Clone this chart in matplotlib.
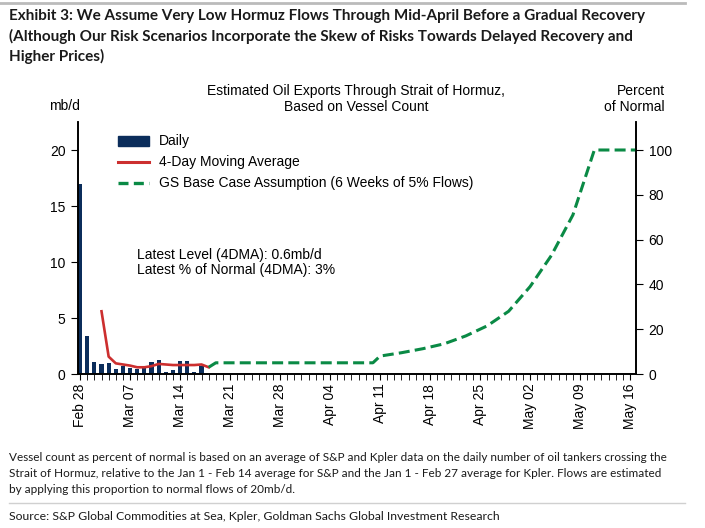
import pandas as pd
import matplotlib
matplotlib.use('Agg')
import matplotlib.pyplot as plt
import matplotlib.dates as mdates
from matplotlib.lines import Line2D
from matplotlib.patches import Patch

# daily flows based on vessel count (mb/d)
daily_dates = pd.date_range('2026-02-28', '2026-03-17')
daily_vals = [17.0, 3.4, 1.1, 0.9, 1.0, 0.45, 0.7, 0.5, 0.45, 0.5,
              1.05, 1.25, 0.2, 0.35, 1.15, 1.15, 0.2, 0.7]

# 4-day moving average (mb/d)
ma_dates = pd.date_range('2026-03-03', '2026-03-18')
ma_vals = [5.6, 1.55, 0.95, 0.85, 0.75, 0.6, 0.6, 0.7, 0.9, 0.85,
           0.8, 0.8, 0.8, 0.8, 0.85, 0.6]

# GS base case assumption (% of normal)
base_dates = pd.to_datetime(['2026-03-18', '2026-03-19', '2026-04-10', '2026-04-11',
                             '2026-04-14', '2026-04-17', '2026-04-20', '2026-04-23',
                             '2026-04-26', '2026-04-29', '2026-05-02', '2026-05-05',
                             '2026-05-08', '2026-05-11', '2026-05-18'])
base_pct = [3, 5, 5, 8, 9.5, 11.3, 13.5, 17, 21.5, 28, 39, 53, 71, 100, 100]

W, H = 705, 528
navy = '#0b2d5b'
red = '#cc2f2f'
green = '#0a8a45'
chart_font = ['Liberation Sans', 'DejaVu Sans']
text_font = ['Lato', 'DejaVu Sans']

fig = plt.figure(figsize=(W / 100, H / 100), dpi=100)
ax = fig.add_axes([78 / W, 1 - 374 / H, (636 - 78) / W, (374 - 122) / H])
ax2 = ax.twinx()

ax.bar(daily_dates, daily_vals, width=0.58, color=navy, zorder=2)
ax.plot(ma_dates, ma_vals, color=red, lw=1.9, zorder=3)
ax2.plot(base_dates, base_pct, color=green, lw=2.2, dashes=(3.6, 1.7))

ax.set_xlim(pd.Timestamp('2026-02-27 17:00'), pd.Timestamp('2026-05-16 20:00'))
ax.set_ylim(0, 22.5)
ax2.set_ylim(0, 112.5)
ax.set_yticks([0, 5, 10, 15, 20])
ax2.set_yticks([0, 20, 40, 60, 80, 100])

ticks = pd.date_range('2026-02-28', '2026-05-16', freq='7D')
ax.set_xticks(ticks)
ax.set_xticklabels([d.strftime('%b %d') for d in ticks], rotation=90,
                   fontfamily=chart_font, fontsize=10)
ax.xaxis.set_minor_locator(mdates.DayLocator())

for a in (ax, ax2):
    a.spines['top'].set_visible(False)
    for s in a.spines.values():
        s.set_linewidth(1.2)
    a.tick_params(axis='both', which='both', direction='out', labelsize=10)
ax.tick_params(axis='x', which='major', length=4, pad=3)
ax.tick_params(axis='x', which='minor', length=4)
ax.tick_params(axis='y', length=5, pad=4)
ax2.tick_params(axis='y', length=5, pad=4)
for lab in ax.get_yticklabels() + ax2.get_yticklabels():
    lab.set_fontfamily(chart_font)

handles = [Patch(color=navy),
           Line2D([], [], color=red, lw=2.2),
           Line2D([], [], color=green, lw=2.4, dashes=(3.0, 1.6))]
labels = ['Daily', '4-Day Moving Average', 'GS Base Case Assumption (6 Weeks of 5% Flows)']
ax.legend(handles, labels, loc='upper left', bbox_to_anchor=(0.05, 1.0),
          frameon=False, prop={'family': chart_font, 'size': 10},
          handlelength=2.2, labelspacing=0.5, handletextpad=0.75)

ax.text(0.105, 0.383, 'Latest Level (4DMA): 0.6mb/d\nLatest % of Normal (4DMA): 3%',
        transform=ax.transAxes, fontsize=10, fontfamily=chart_font,
        va='bottom', linespacing=1.15)

fig.text(356 / W, 1 - 99 / H, 'Estimated Oil Exports Through Strait of Hormuz,\nBased on Vessel Count',
         ha='center', va='center', fontsize=10, fontfamily=chart_font, linespacing=1.15)
fig.text(64 / W, 1 - 106 / H, 'mb/d', ha='center', va='center', fontsize=10,
         fontfamily=chart_font)
fig.text(665 / W, 1 - 99 / H, 'Percent\nof Normal', ha='right', va='center', fontsize=10,
         fontfamily=chart_font, linespacing=1.15)

fig.add_artist(Line2D([0, 685 / W], [1 - 3 / H, 1 - 3 / H], color='#bbbbbb', lw=2))
title = ('Exhibit 3: We Assume Very Low Hormuz Flows Through Mid-April Before a Gradual Recovery\n'
         '(Although Our Risk Scenarios Incorporate the Skew of Risks Towards Delayed Recovery and\n'
         'Higher Prices)')
fig.text(9 / W, 1 - 9 / H, title, ha='left', va='top', fontsize=11, fontweight='bold',
         fontfamily=text_font, linespacing=1.47, color='#1a1a1a')

note = ('Vessel count as percent of normal is based on an average of S&P and Kpler data on the daily number of oil tankers crossing the\n'
        'Strait of Hormuz, relative to the Jan 1 - Feb 14 average for S&P and the Jan 1 - Feb 27 average for Kpler. Flows are estimated\n'
        'by applying this proportion to normal flows of 20mb/d.')
fig.text(9 / W, 1 - 452 / H, note, ha='left', va='top', fontsize=8.5,
         fontfamily=text_font, linespacing=1.56, color='#1a1a1a')
fig.add_artist(Line2D([9 / W, 685 / W], [1 - 503 / H, 1 - 503 / H], color='#d0d0d0', lw=1))
fig.text(9 / W, 1 - 516 / H, 'Source: S&P Global Commodities at Sea, Kpler, Goldman Sachs Global Investment Research',
         ha='left', va='center', fontsize=8.8, fontfamily=text_font, color='#1a1a1a')

fig.savefig('out.png', dpi=100)
